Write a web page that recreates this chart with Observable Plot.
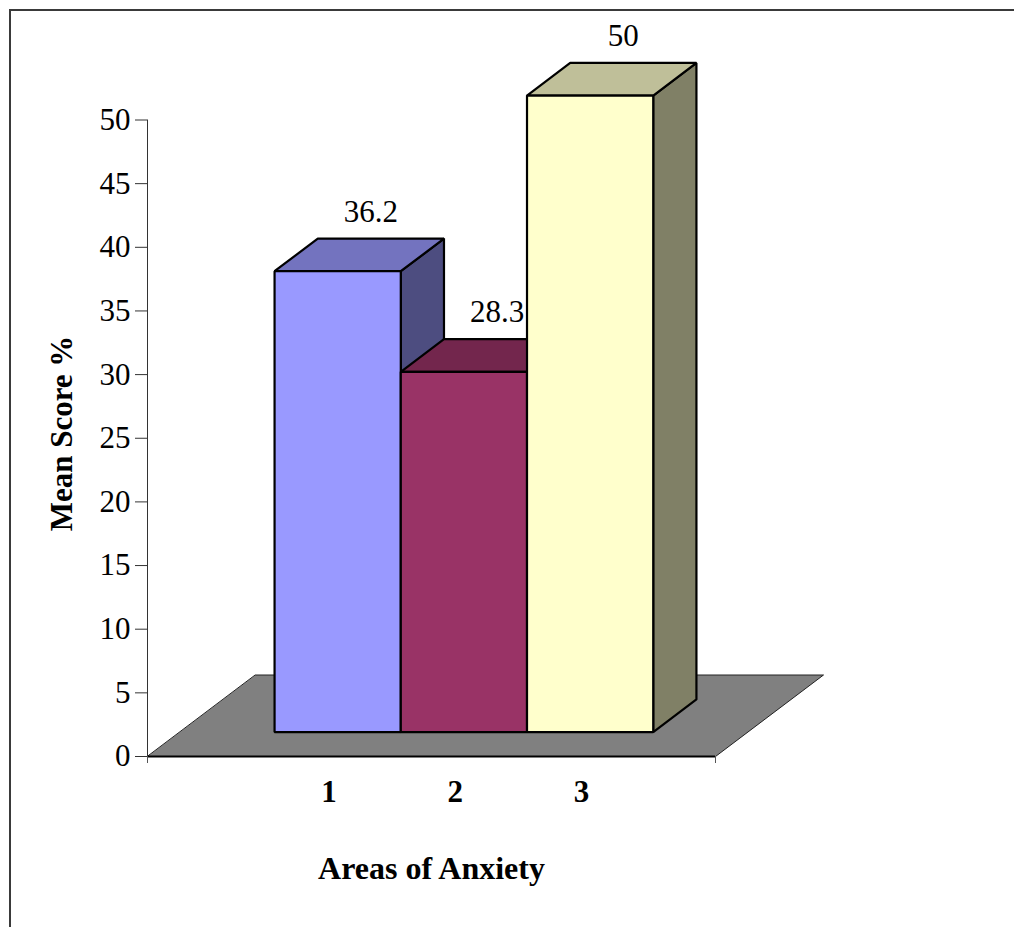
<!DOCTYPE html>
<html>
<head>
<meta charset="utf-8">
<script src="https://cdn.jsdelivr.net/npm/d3@7"></script>
<script src="https://cdn.jsdelivr.net/npm/@observablehq/plot@0.6"></script>
<style>
  html, body { margin: 0; padding: 0; background: #fff; overflow: hidden; }
  #chart { position: relative; width: 1014px; height: 927px; }
  #chart svg { position: absolute; left: 0; top: 0; }
  #border { position: absolute; left: 9px; top: 9px; width: 1100px; height: 1000px;
            border: 2px solid #3a3a3a; box-sizing: border-box; pointer-events: none; }
</style>
</head>
<body>
<div id="chart"><div id="border"></div></div>
<script>
// Mean score per area of anxiety
const categories = ["1", "2", "3"];
const meanScores = [36.2, 28.3, 50];
const yTicks = [0, 5, 10, 15, 20, 25, 30, 35, 40, 45, 50];

// Face shades of each column: front, top (darker), right side (darkest)
const frontColors = ["#9999FF", "#993366", "#FFFFCC"];
const topColors   = ["#7373BF", "#73264D", "#BFBF99"];
const sideColors  = ["#4D4D80", "#4D1A33", "#808066"];
const floorColor  = "#808080";

// Layout of the plotting area
const W = 1014, H = 927;
const xRange = [147, 715], yRange = [756, 119.5];
const xDomain = [0, 4.5], yDomain = [0, 50];
const floorDepthPx = [108, 81.5];           // on-screen shift of the floor's back edge
const pxPerX = (xRange[1] - xRange[0]) / (xDomain[1] - xDomain[0]);
const pxPerY = (yRange[0] - yRange[1]) / (yDomain[1] - yDomain[0]);
const kx = floorDepthPx[0] / pxPerX;        // depth -> x units
const ky = floorDepthPx[1] / pxPerY;        // depth -> y units

// Oblique projection: depth z in [0, 1] shifts a point right and up
const proj = (x, y, z) => ({x: x + z * kx, y: y + z * ky});

const barStart = 0.75, barWidth = 1, zFront = 0.3, zBack = 0.7;

// Floor
const floor = [proj(0, 0, 0), proj(4.5, 0, 0), proj(4.5, 0, 1), proj(0, 0, 1)];

// Column faces, drawn left to right so each column covers its neighbour's side
const faces = meanScores.flatMap((v, i) => {
  const x0 = barStart + i * barWidth, x1 = x0 + barWidth;
  return [
    {color: sideColors[i],  pts: [proj(x1, 0, zFront), proj(x1, 0, zBack), proj(x1, v, zBack), proj(x1, v, zFront)]},
    {color: topColors[i],   pts: [proj(x0, v, zFront), proj(x1, v, zFront), proj(x1, v, zBack), proj(x0, v, zBack)]},
    {color: frontColors[i], pts: [proj(x0, 0, zFront), proj(x1, 0, zFront), proj(x1, v, zFront), proj(x0, v, zFront)]}
  ];
});

// Value labels above the back edge of each column's top
const valueLabels = meanScores.map((v, i) => {
  const p = proj(barStart + i * barWidth + barWidth / 2, v, zBack);
  return {x: p.x, y: p.y, text: String(v)};
});

// Category labels under the floor
const catLabels = categories.map((c, i) => ({
  x: barStart + i * barWidth + barWidth / 2 + 0.22 * kx, y: 0, text: c
}));

const serif = "'Liberation Serif', 'Times New Roman', serif";

const plot = Plot.plot({
  width: W,
  height: H,
  marginLeft: xRange[0],
  marginRight: W - xRange[1],
  marginTop: 110,
  marginBottom: H - yRange[0],
  style: {fontFamily: serif, fontSize: "31px", color: "black", background: "transparent"},
  x: {type: "linear", domain: xDomain, range: xRange},
  y: {type: "linear", domain: yDomain, range: yRange},
  marks: [
    Plot.line(floor, {x: "x", y: "y", curve: "linear-closed", fill: floorColor, stroke: "#222", strokeWidth: 1}),
    Plot.ruleY([0], {x1: xDomain[0], x2: xDomain[1], stroke: "black", strokeWidth: 2}),
    ...faces.map(f => Plot.line(f.pts, {
      x: "x", y: "y", curve: "linear-closed", fill: f.color,
      stroke: "black", strokeWidth: 2.2, strokeLinejoin: "miter"
    })),
    Plot.ruleX([0], {y1: yDomain[0], y2: yDomain[1], stroke: "#333", strokeWidth: 1}),
    Plot.axisY({ticks: yTicks, tickSize: 12, tickPadding: 5, label: null, fontSize: 31, stroke: "#333"}),
    Plot.axisX({ticks: xDomain, tickSize: 7, tickFormat: () => "", label: null, stroke: "#555"}),
    Plot.text(valueLabels, {x: "x", y: "y", text: "text", dx: -10, dy: -27, fontSize: 31, fill: "black"}),
    Plot.text(catLabels, {x: "x", y: "y", text: "text", dy: 36, fontSize: 31, fontWeight: "bold", fill: "black"}),
    Plot.text(["Areas of Anxiety"], {
      frameAnchor: "bottom", textAnchor: "middle", lineAnchor: "middle",
      dy: 112, fontSize: 32, fontWeight: "bold", fill: "black"
    }),
    Plot.text(["Mean Score %"], {
      frameAnchor: "left", textAnchor: "middle", lineAnchor: "middle",
      dx: -85, rotate: -90, fontSize: 31, fontWeight: "bold", fill: "black"
    })
  ]
});

document.getElementById("chart").prepend(plot);
</script>
</body>
</html>
